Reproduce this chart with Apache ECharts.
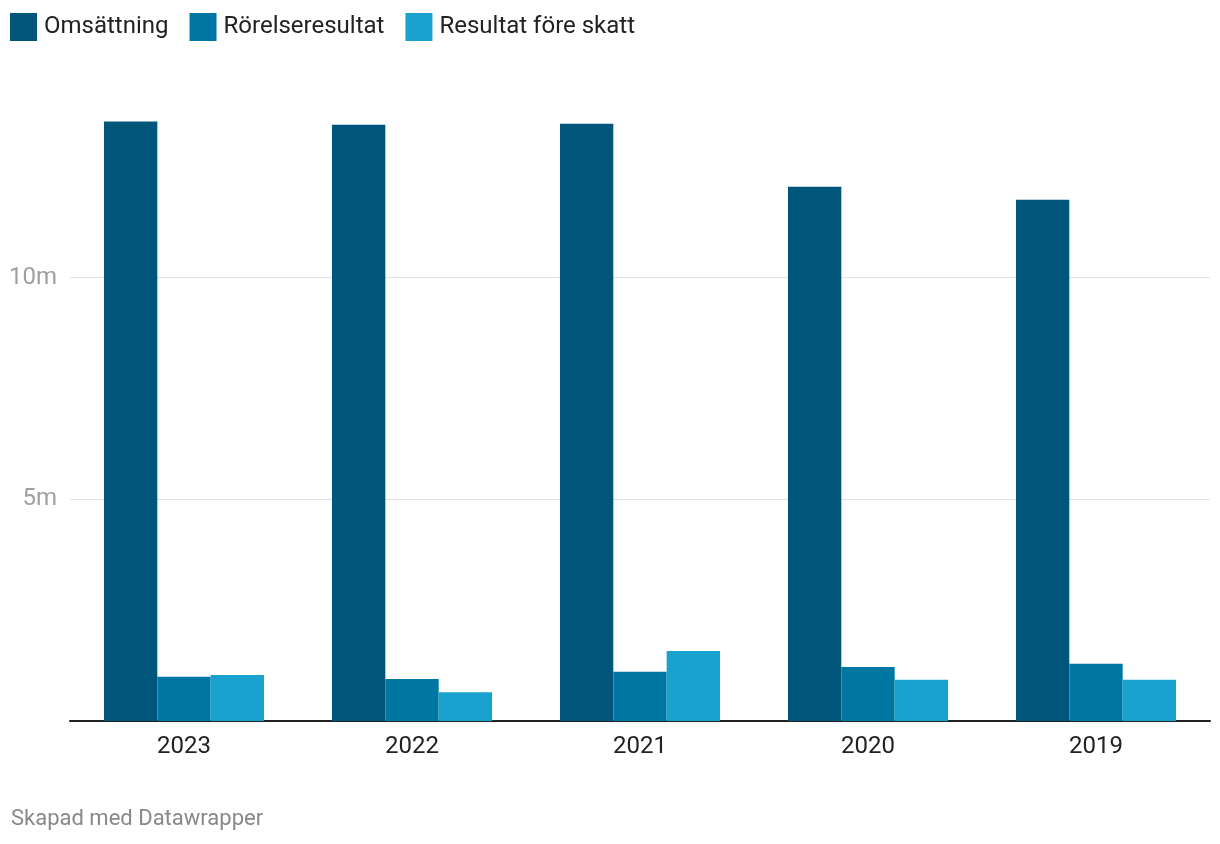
<!DOCTYPE html>
<html><head><meta charset="utf-8">
<script src="https://cdn.jsdelivr.net/npm/echarts@6/dist/echarts.min.js"></script>
<style>html,body{margin:0;padding:0;background:#fff}#c{width:1220px;height:844px}</style>
</head><body><div id="c"></div>
<script>
const categories = ['2023','2022','2021','2020','2019'];
const seriesNames = ['Omsättning','Rörelseresultat','Resultat före skatt'];
const omsattning = [13520000, 13450000, 13470000, 12050000, 11760000];
const rorelseresultat = [1000000, 950000, 1110000, 1220000, 1290000];
const resultatForeSkatt = [1040000, 650000, 1580000, 930000, 930000];
const yTicks = [5000000, 10000000];
const colors = ['#00557b', '#0077a3', '#19a2cd'];

const chart = echarts.init(document.getElementById('c'), null, {renderer:'canvas'});
const font = 'Roboto, "Noto Sans", sans-serif';
chart.setOption({
  animation:false,
  textStyle:{fontFamily:font},
  legend:{
    left:10, top:13, padding:0, itemWidth:27, itemHeight:28, itemGap:21,
    icon:'rect', selectedMode:false,
    textStyle:{fontSize:24, color:'#222', fontFamily:font, padding:[0,0,0,2]},
    data:seriesNames
  },
  graphic:[{type:'text', left:11, top:808, style:{text:'Skapad med Datawrapper', fontSize:22, fill:'#888', fontFamily:font}}],
  grid:{left:70, right:10, top:56, bottom:123, containLabel:false},
  xAxis:{
    type:'category', data:categories,
    axisLine:{lineStyle:{color:'#222', width:2}},
    axisTick:{show:false},
    axisLabel:{fontSize:24, color:'#222', margin:14, fontFamily:font}
  },
  yAxis:{
    type:'value', min:0, max:15000000, interval:5000000,
    axisLine:{show:false}, axisTick:{show:false},
    axisLabel:{fontSize:24, color:'#a0a0a0', margin:13, fontFamily:font, showMinLabel:false, showMaxLabel:false,
      formatter:v=> yTicks.indexOf(v)>=0 ? (v/1e6)+'m' : ''},
    splitLine:{lineStyle:{color:'#e3e3e3', width:1}, showMinLine:false, showMaxLine:false}
  },
  series:[
    {name:seriesNames[0], type:'bar', data:omsattning, itemStyle:{color:colors[0]}, barGap:'0%', barCategoryGap:'29.8%'},
    {name:seriesNames[1], type:'bar', data:rorelseresultat, itemStyle:{color:colors[1]}, barGap:'0%', barCategoryGap:'29.8%'},
    {name:seriesNames[2], type:'bar', data:resultatForeSkatt, itemStyle:{color:colors[2]}, barGap:'0%', barCategoryGap:'29.8%'}
  ]
});
</script></body></html>
